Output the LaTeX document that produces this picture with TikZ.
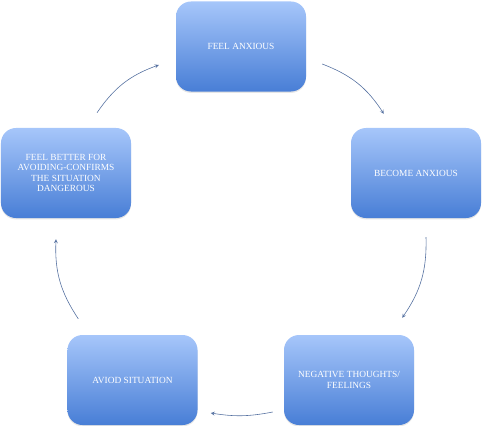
\documentclass[tikz,border=0pt]{standalone}
\usepackage{fontspec}
\setmainfont{Liberation Serif}
\usetikzlibrary{shadows}
\definecolor{boxtop}{RGB}{166,198,250}
\definecolor{boxbot}{RGB}{72,126,214}
\definecolor{arrowcol}{RGB}{84,112,160}
\begin{document}
\begin{tikzpicture}[x=0.03cm,y=-0.03cm,
        stage/.style={rounded corners=0.45cm,minimum width=3.9cm,
            minimum height=2.7cm,top color=boxtop,bottom color=boxbot,
            text=white,align=center,inner sep=2pt,
            font=\fontsize{8}{8.8}\selectfont,
            drop shadow={opacity=0.2,shadow xshift=0pt,shadow yshift=-1.2pt}},
        cyc/.style={->,>=stealth,arrowcol,line width=0.5pt,bend left=18}]
    \useasboundingbox (0,0) rectangle (482,426);

    \node[stage] (anx) at (241,46.5) {FEEL ANXIOUS};
    \node[stage] (bec) at (416,173) {BECOME ANXIOUS};
    \node[stage] (neg) at (349,380) {NEGATIVE THOUGHTS/\\FEELINGS};
    \node[stage] (avi) at (132.5,380) {AVIOD SITUATION};
    \node[stage] (bet) at (66,173) {FEEL BETTER FOR\\AVOIDING-CONFIRMS\\THE SITUATION\\DANGEROUS};

	\draw[cyc] ([shift={(16,17.5)}]anx.east) to ([shift={(33,-14)}]bec.north west);
	\draw[cyc] ([shift={(10,19)}]bec.south) to ([shift={(-12,-17)}]neg.north east);
	\draw[cyc,bend left=10] ([shift={(-11,32)}]neg.west) to ([shift={(13,33)}]avi.east);
	\draw[cyc] ([shift={(11,-16)}]avi.north west) to ([shift={(-10,21)}]bet.south);
	\draw[cyc] ([shift={(31,-15)}]bet.north) to ([shift={(-17,18.5)}]anx.west);
\end{tikzpicture}
\end{document}
